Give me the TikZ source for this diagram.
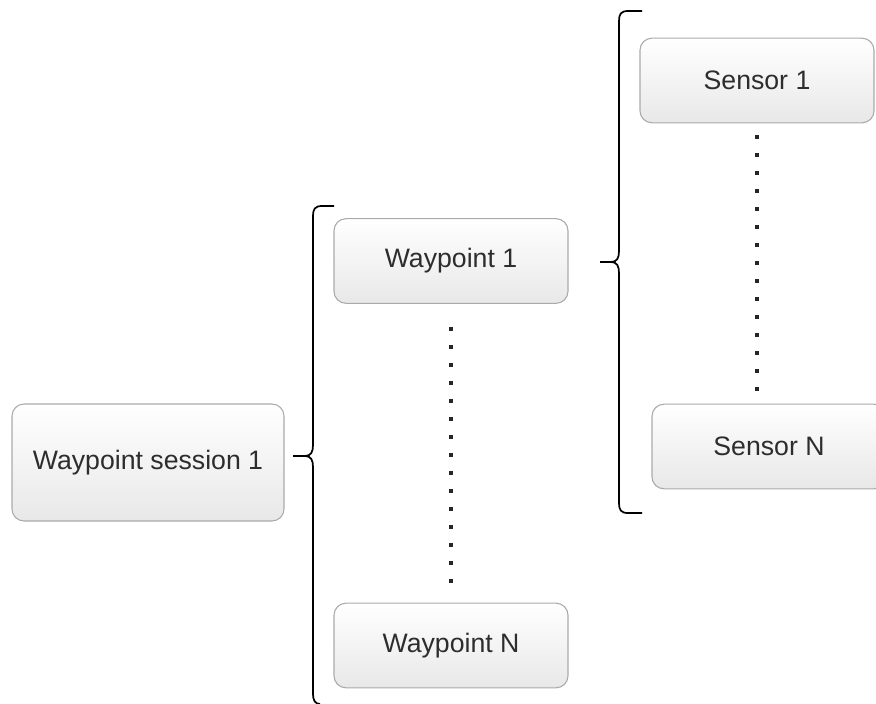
\documentclass[tikz,border=0pt]{standalone}
\usepackage{fontspec}
\setmainfont{Liberation Sans}
\usepackage{tikz}
\usetikzlibrary{positioning}
\usepackage{xcolor}
\definecolor{wpborder}{RGB}{170,170,170}
\definecolor{wptext}{RGB}{45,45,45}
\definecolor{wpbottom}{RGB}{232,232,232}
\tikzstyle{waybox} = [rectangle, rounded corners=9pt, minimum width=175.5pt, minimum height=63.5pt, inner sep=0pt, text centered, draw=wpborder, line width=0.8pt, top color=white, bottom color=wpbottom, text=wptext, font=\fontsize{20}{23}\selectfont]
\tikzstyle{dotline} = [line width=3pt, dash pattern=on 3pt off 10.5pt, color=black!85]
\tikzstyle{bracket} = [line width=1.3pt, color=black]

\begin{document}
\begin{tikzpicture}[x=0.75pt, y=-0.75pt]
\useasboundingbox (0,0) rectangle (876,704);
% Session
\node (session) [waybox, minimum width=204pt, minimum height=87.75pt] at (148,462.5) {Waypoint session 1};

% Waypoints
\node (wp1) [waybox] at (451,261) {Waypoint 1};
\node (wpN) [waybox] at (451,645.5) {Waypoint N};

% Sensors
\node (sen1) [waybox] at (757,80.5) {Sensor 1};
\node (senN) [waybox] at (769,446.5) {Sensor N};

% Dots between first and last
\draw[dotline, shorten <=17pt, shorten >=13pt] (wp1.south) -- (wpN.north);
\draw[dotline, shorten <=9pt, shorten >=7pt] (sen1.south) -- (senN.north -| sen1.south);

% Braces
\draw[bracket] (334,206) -- (322,206) .. controls (315,206) and (313,209) .. (313,216) -- (313,445) .. controls (313,452) and (311,456) .. (305,456) -- (293,456) -- (305,456) .. controls (311,456) and (313,460) .. (313,467) -- (313,694) .. controls (313,700) and (315,704) .. (320,704);
\draw[bracket] (642,11) -- (628,11) .. controls (621,11) and (619,14) .. (619,21) -- (619,251) .. controls (619,258) and (617,262) .. (611,262) -- (600,262) -- (611,262) .. controls (617,262) and (619,266) .. (619,273) -- (619,503) .. controls (619,510) and (621,513) .. (628,513) -- (642,513);
\end{tikzpicture}
\end{document}
